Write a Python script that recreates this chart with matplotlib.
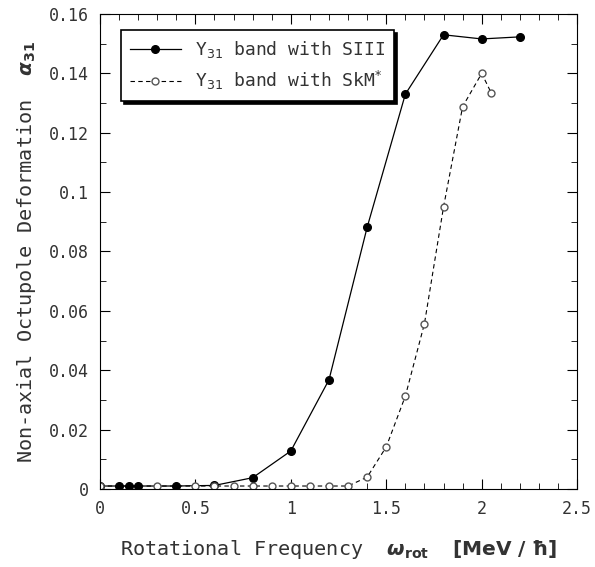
import numpy as np
import matplotlib.pyplot as plt
from matplotlib.ticker import MultipleLocator

# Y31 band, SIII force
w_siii = [0.0, 0.1, 0.15, 0.2, 0.4, 0.6, 0.8, 1.0, 1.2, 1.4, 1.6, 1.8, 2.0, 2.2]
a_siii = [0.001, 0.001, 0.001, 0.001, 0.001, 0.0012, 0.0038, 0.0128, 0.0368, 0.0882,
          0.1330, 0.1530, 0.1516, 0.1523]

# Y31 band, SkM* force
w_skm = [0.0, 0.3, 0.5, 0.6, 0.7, 0.8, 0.9, 1.0, 1.1, 1.2, 1.3, 1.4, 1.5, 1.6,
         1.7, 1.8, 1.9, 2.0, 2.05]
a_skm = [0.001, 0.001, 0.001, 0.001, 0.001, 0.001, 0.001, 0.001, 0.001, 0.001, 0.001,
         0.0040, 0.0142, 0.0313, 0.0557, 0.0950, 0.1288, 0.1400, 0.1334]

plt.rcParams['font.family'] = 'DejaVu Sans Mono'
plt.rcParams['mathtext.fontset'] = 'dejavusans'

fig = plt.figure(figsize=(5.95, 5.67), dpi=100)
ax = fig.add_axes([0.168, 0.1376, 0.802, 0.8377])

ax.plot(w_siii, a_siii, 'k-', lw=0.9, marker='o', ms=5.5, mfc='black', mec='black',
        label=r'Y$_{31}$ band with SIII')
ax.plot(w_skm, a_skm, color='black', ls=(0, (4, 3)), lw=0.8, marker='o', ms=5,
        mfc='white', mec='#555555', mew=1.0, label=r'Y$_{31}$ band with SkM$^{*}$')

ax.set_xlim(0, 2.5)
ax.set_ylim(0, 0.16)
ax.xaxis.set_minor_locator(MultipleLocator(0.1))
ax.yaxis.set_minor_locator(MultipleLocator(0.01))
ax.set_xticks([0, 0.5, 1, 1.5, 2, 2.5])
ax.set_xticklabels(['0', '0.5', '1', '1.5', '2', '2.5'])
ax.set_yticks([0, 0.02, 0.04, 0.06, 0.08, 0.1, 0.12, 0.14, 0.16])
ax.set_yticklabels(['0', '0.02', '0.04', '0.06', '0.08', '0.1', '0.12', '0.14', '0.16'])
ax.tick_params(which='both', direction='in', top=True, right=True, labelsize=12,
               labelcolor='#333333')
ax.tick_params(which='major', length=7, pad=8)
ax.tick_params(which='minor', length=4)

ax.set_xlabel(r'Rotational Frequency  $\boldsymbol{\omega}_{\mathbf{rot}}$  $\mathbf{[MeV\ /\ \hbar]}$',
              fontsize=14.5, color='#333333', labelpad=14)
ax.set_ylabel(r'Non-axial Octupole Deformation  $\boldsymbol{\alpha}_{\mathbf{31}}$',
              fontsize=14.5, color='#333333', labelpad=8)

leg = ax.legend(loc='upper left', bbox_to_anchor=(0.025, 0.985), fontsize=13,
                frameon=True, fancybox=False, shadow={'color': 'black', 'alpha': 1},
                handlelength=2.8, borderpad=0.5, labelcolor='#333333')
leg.get_frame().set_edgecolor('black')
leg.get_frame().set_linewidth(1.2)

plt.savefig('out.png', dpi=100)
plt.close()
